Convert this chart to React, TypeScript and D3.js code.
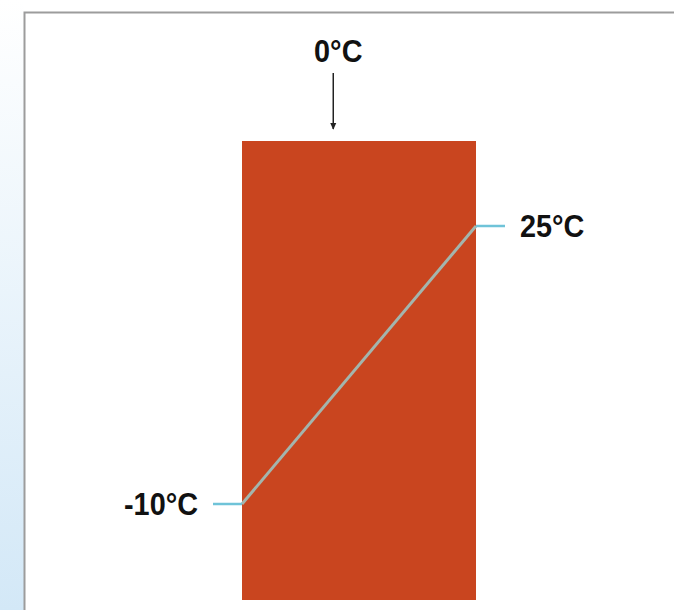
import React from 'react';
import * as d3 from 'd3';

// Temperatures at the two faces of the block, and the marker at the top
const sideTemps = [-10, 25];
const sideLabels = ['-10°C', '25°C'];
const markerLabel = '0°C';
const markerPos = 0.39; // fraction across the block

const W = 674;
const H = 610;

const App: React.FC = () => {
  // block geometry
  const blockX = d3.scaleLinear().domain([0, 1]).range([242, 476]);
  const blockTop = 141;
  const blockBottom = 600;

  // temperature -> vertical position on the faces
  const y = d3.scaleLinear().domain([-10, 25]).range([504, 226]);

  const line = d3.line<number>()
    .x((_, i) => blockX(i))
    .y(d => y(d));

  const font = "'Liberation Sans', Arial, sans-serif";
  const mx = blockX(markerPos);

  // labels look a touch condensed in the original
  const squeeze = (x: number, yy: number) => `translate(${x},${yy}) scale(0.93,1)`;

  return (
    <svg width={W} height={H} style={{ position: 'absolute', left: 0, top: 0 }}
      fontFamily={font}>
      <defs>
        <linearGradient id="side-grad" x1="0" y1="0" x2="0" y2="1">
          <stop offset="0%" stopColor="#ffffff" />
          <stop offset="100%" stopColor="#d3e8f7" />
        </linearGradient>
        <marker id="arrow" viewBox="0 0 10 10" refX="8" refY="5"
          markerWidth="5" markerHeight="5" orient="auto">
          <path d="M0,1 L9,5 L0,9 z" fill="#222" />
        </marker>
      </defs>
      <rect x={0} y={0} width={W} height={H} fill="#fff" />
      <rect x={0} y={0} width={24} height={H} fill="url(#side-grad)" />
      {/* frame */}
      <path d={`M24.5,${H} V12.5 H${W}`} fill="none" stroke="#9c9c9c" strokeWidth={2} />

      {/* block */}
      <rect x={blockX(0)} y={blockTop} width={blockX(1) - blockX(0)}
        height={blockBottom - blockTop} fill="#c9451f" />

      {/* temperature profile */}
      <path d={line(sideTemps) || ''} fill="none" stroke="#a3b5ad" strokeWidth={3} />

      {/* side ticks and labels */}
      {sideTemps.map((t, i) => {
        const x0 = blockX(i);
        const dir = i === 0 ? -1 : 1;
        return (
          <g key={i}>
            <line x1={x0} x2={x0 + dir * 29} y1={y(t)} y2={y(t)}
              stroke="#6fc3d8" strokeWidth={2.5} />
            <text transform={squeeze(x0 + dir * 44, y(t))} dy="0.36em" fontSize={31}
              fontWeight="bold" textAnchor={i === 0 ? 'end' : 'start'}
              fill="#111">{sideLabels[i]}</text>
          </g>
        );
      })}

      {/* top marker */}
      <text transform={squeeze(mx + 5, 62)} fontSize={31} fontWeight="bold"
        textAnchor="middle" fill="#111">{markerLabel}</text>
      <line x1={mx} x2={mx} y1={73} y2={129} stroke="#222" strokeWidth={1.5}
        markerEnd="url(#arrow)" />
    </svg>
  );
};

export default App;
